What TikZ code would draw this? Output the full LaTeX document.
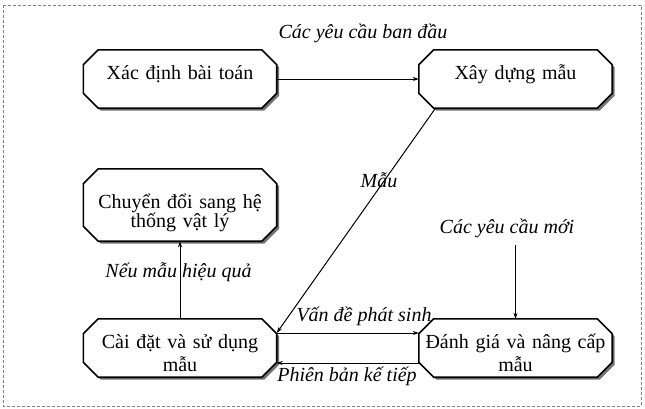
\documentclass[tikz,border=0pt]{standalone}
\usepackage{fontspec}
\setmainfont{Liberation Serif}
\usetikzlibrary{shadows,arrows.meta,backgrounds}

\tikzset{
	stage/.style={rectangle, minimum width=193pt, minimum height=58pt, inner sep=0pt, text width=185pt, align=center,
		text height=22pt, text depth=22pt, font=\fontsize{20}{23}\selectfont},
	octagon/.style={draw=black, line width=1.6pt, fill=white,
		drop shadow={shadow xshift=2.5pt, shadow yshift=-2.5pt, fill=black!55, opacity=1}},
	note/.style={font=\fontsize{20}{22}\selectfont\itshape, inner sep=0pt, anchor=base},
	flow/.style={-{Stealth[length=6pt,width=4pt]}, line width=1pt},
}

\begin{document}
\begin{tikzpicture}[x=1pt,y=-1pt]
	\useasboundingbox (0,0) rectangle (645,408);
	\draw[gray, densely dashed, line width=0.8pt] (3,5) rectangle (641,406);

	% stages
	\node[stage] (define) at (180,79) {Xác định bài toán};
	\node[stage] (build) at (515.5,79) {Xây dựng mẫu};
	\node[stage, minimum height=72pt, text height=25pt, text depth=19pt, font=\fontsize{20}{17}\selectfont] (convert) at (180,205) {Chuyển đổi sang hệ\\thống vật lý};
	\node[stage] (use) at (180,348) {Cài đặt và sử dụng\\mẫu};
	\node[stage] (eval) at (515.5,348) {Đánh giá và nâng cấp\\mẫu};

	\begin{scope}[on background layer]
	\foreach \n in {define,build,convert,use,eval}
		\draw[octagon] ([xshift=15pt]\n.north west) -- ([xshift=-15pt]\n.north east) -- ([yshift=-15pt]\n.north east)
			-- ([yshift=15pt]\n.south east) -- ([xshift=-15pt]\n.south east) -- ([xshift=15pt]\n.south west)
			-- ([yshift=15pt]\n.south west) -- ([yshift=-15pt]\n.north west) -- cycle;
	\end{scope}

	% labels
	\node[note] (initreq) at (363,38) {Các yêu cầu ban đầu};
	\node[note] (proto) at (379,187) {Mẫu};
	\node[note] (good) at (178.5,277) {Nếu mẫu hiệu quả};
	\node[note] (issue) at (364,321) {Vấn đề phát sinh};
	\node[note] (next) at (347,381) {Phiên bản kế tiếp};
	\node[note] (newreq) at (507,233) {Các yêu cầu mới};
	\coordinate (newreqend) at (515.5,245);

	% arrows
	\draw[flow] (define) -- (build);
	\draw[flow] ([xshift=-80pt]build.south) -- ([yshift=15pt]use.east);
	\draw[flow] ([yshift=15pt]use.east) -- ([yshift=15pt]eval.west);
	\draw[flow] ([yshift=-15pt]eval.west) -- ([yshift=-15pt]use.east);
	\draw[flow] (use) -- (convert);
	\draw[flow] (newreqend) -- (eval);
\end{tikzpicture}
\end{document}
